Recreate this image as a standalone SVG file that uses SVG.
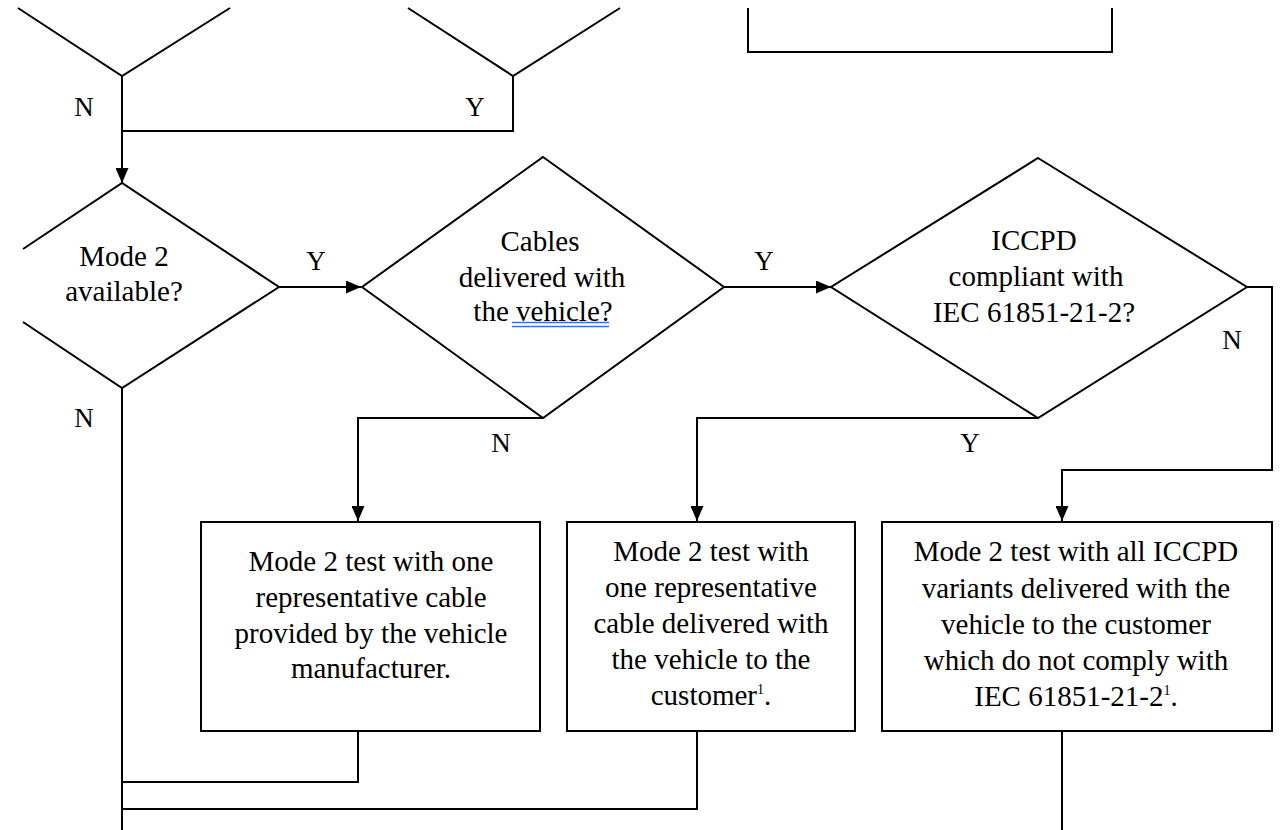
<svg xmlns="http://www.w3.org/2000/svg" width="1281" height="830" viewBox="0 0 1281 830">
<style>
.s{fill:none;stroke:#000;stroke-width:2;stroke-linejoin:miter}
.b{fill:#fff;stroke:#000;stroke-width:2}
.t{font-family:'Liberation Serif',Tinos,'Times New Roman','DejaVu Serif',serif;font-size:29px;fill:#000;text-anchor:middle}
.l{font-family:'Liberation Serif',Tinos,'Times New Roman','DejaVu Serif',serif;font-size:27px;fill:#000;text-anchor:middle}
.sup{font-size:14px}
.u{stroke:#3a6fd8;stroke-width:1.5}
</style>
<defs>
<marker id="ah" markerUnits="userSpaceOnUse" markerWidth="15" markerHeight="13" refX="15" refY="6.5" orient="auto">
<path d="M0,0 L15,6.5 L0,13 z" fill="#000"/>
</marker>
</defs>
<rect width="1281" height="830" fill="#fff"/>

<g id="connectors">
<polyline class="s" points="513,76 513,131 122,131"/>
<polyline class="s" points="122,76 122,183" marker-end="url(#ah)"/>
<polyline class="s" points="279,287 361,287" marker-end="url(#ah)"/>
<polyline class="s" points="724,287 831,287" marker-end="url(#ah)"/>
<polyline class="s" points="1247,287 1272,287 1272,470 1062,470 1062,521" marker-end="url(#ah)"/>
<polyline class="s" points="1038,418 697,418 697,521" marker-end="url(#ah)"/>
<polyline class="s" points="543,418 358,418 358,521" marker-end="url(#ah)"/>
<polyline class="s" points="122,388 122,830"/>
<polyline class="s" points="358,731 358,782 122,782"/>
<polyline class="s" points="697,731 697,809 122,809"/>
<polyline class="s" points="1062,731 1062,830"/>
<text class="l" x="84" y="116">N</text>
<text class="l" x="475" y="116">Y</text>
<text class="l" x="316" y="270">Y</text>
<text class="l" x="764" y="270">Y</text>
<text class="l" x="1232" y="349">N</text>
<text class="l" x="84" y="427">N</text>
<text class="l" x="501" y="452">N</text>
<text class="l" x="970" y="452">Y</text>
</g>

<g id="top-decision-left">
<polyline class="s" points="18,8 122,76 230,8"/>
</g>
<g id="top-decision-right">
<polyline class="s" points="408,8 513,76 620,8"/>
</g>
<g id="top-box">
<polyline class="s" points="748,8 748,52 1112,52 1112,8"/>
</g>

<g id="mode2-available">
<polyline class="b" points="23,249 122,183 279,287 122,388 23,322"/>
<text class="t" x="124" y="266">Mode 2</text>
<text class="t" x="124" y="301">available?</text>
</g>

<g id="cables-delivered">
<polygon class="b" points="543,157 724,287 543,418 362,287"/>
<text class="t" x="540" y="251">Cables</text>
<text class="t" x="542" y="287">delivered with</text>
<text class="t" x="543" y="321">the vehicle?</text>
<line class="u" x1="512" y1="322.5" x2="609" y2="322.5"/>
<line class="u" x1="512" y1="326.5" x2="609" y2="326.5"/>
</g>

<g id="iccpd-compliant">
<polygon class="b" points="1038,158 1247,287 1038,418 831,287"/>
<text class="t" x="1034" y="250">ICCPD</text>
<text class="t" x="1036" y="286">compliant with</text>
<text class="t" x="1034" y="322">IEC 61851-21-2?</text>
</g>

<g id="box-manufacturer">
<rect class="b" x="201" y="522" width="339" height="209"/>
<text class="t" x="371" y="571">Mode 2 test with one</text>
<text class="t" x="371" y="607">representative cable</text>
<text class="t" x="371" y="643">provided by the vehicle</text>
<text class="t" x="371" y="678">manufacturer.</text>
</g>

<g id="box-representative">
<rect class="b" x="567" y="522" width="288" height="209"/>
<text class="t" x="711" y="561">Mode 2 test with</text>
<text class="t" x="711" y="597">one representative</text>
<text class="t" x="711" y="633">cable delivered with</text>
<text class="t" x="711" y="669">the vehicle to the</text>
<text class="t" x="711" y="705">customer<tspan class="sup" dy="-11">1</tspan><tspan dy="11">.</tspan></text>
</g>

<g id="box-all-iccpd">
<rect class="b" x="882" y="522" width="390" height="209"/>
<text class="t" x="1076" y="561">Mode 2 test with all ICCPD</text>
<text class="t" x="1076" y="598">variants delivered with the</text>
<text class="t" x="1076" y="634">vehicle to the customer</text>
<text class="t" x="1076" y="670">which do not comply with</text>
<text class="t" x="1076" y="706">IEC 61851-21-2<tspan class="sup" dy="-11">1</tspan><tspan dy="11">.</tspan></text>
</g>
</svg>
